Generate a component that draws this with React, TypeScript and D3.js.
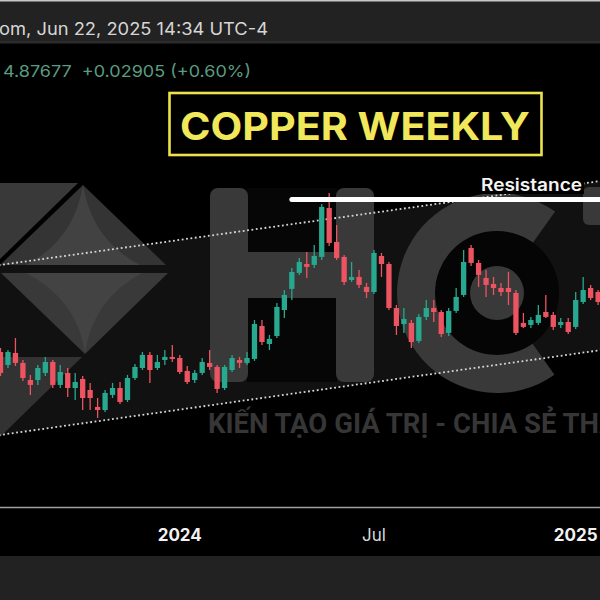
import React from 'react';
import * as d3 from 'd3';

// Weekly COMEX copper candles (USD/lb), first week starting 2023-07-17
const firstWeek = '2023-07-17';
const opens = [4.015, 3.918, 4.008, 3.933, 3.805, 3.805, 3.858, 3.94, 3.768, 3.858, 3.745, 3.813, 3.73, 3.603, 3.58, 3.693, 3.745, 3.655, 3.82, 3.895, 3.993, 3.895, 3.955, 3.978, 3.97, 3.873, 3.805, 3.858, 3.933, 3.903, 3.745, 3.88, 3.955, 3.933, 3.963, 4.21, 4.075, 4.135, 4.33, 4.488, 4.608, 4.675, 4.668, 4.728, 5.095, 4.84, 4.728, 4.555, 4.578, 4.503, 4.465, 4.735, 4.675, 4.345, 4.225, 4.233, 4.098, 4.278, 4.345, 4.315, 4.158, 4.323, 4.443, 4.795, 4.683, 4.57, 4.525, 4.495, 4.495, 4.458, 4.233, 4.218, 4.233, 4.315, 4.293, 4.218, 4.24, 4.203, 4.39, 4.495, 4.465];
const highs = [4.045, 4.03, 4.12, 3.955, 3.843, 3.918, 3.978, 3.955, 3.918, 3.895, 3.858, 3.835, 3.783, 3.67, 3.73, 3.783, 3.79, 3.843, 3.925, 4.015, 4.015, 3.993, 4.03, 4.068, 3.993, 3.91, 3.88, 3.97, 4.03, 3.918, 3.918, 3.993, 3.978, 4.015, 4.255, 4.255, 4.143, 4.383, 4.48, 4.645, 4.72, 4.765, 4.818, 5.125, 5.208, 4.968, 4.743, 4.69, 4.63, 4.533, 4.78, 4.758, 4.69, 4.368, 4.345, 4.255, 4.3, 4.405, 4.405, 4.33, 4.345, 4.495, 4.78, 4.818, 4.705, 4.63, 4.578, 4.533, 4.615, 4.48, 4.308, 4.278, 4.368, 4.443, 4.315, 4.27, 4.27, 4.465, 4.578, 4.518, 4.48];
const lows = [3.835, 3.895, 3.91, 3.798, 3.693, 3.768, 3.835, 3.745, 3.745, 3.678, 3.655, 3.58, 3.58, 3.52, 3.565, 3.67, 3.625, 3.64, 3.805, 3.88, 3.783, 3.88, 3.918, 3.94, 3.85, 3.775, 3.783, 3.843, 3.88, 3.708, 3.73, 3.865, 3.895, 3.918, 3.948, 4.068, 4.03, 4.12, 4.27, 4.405, 4.593, 4.57, 4.645, 4.705, 4.81, 4.705, 4.518, 4.54, 4.495, 4.42, 4.45, 4.578, 4.33, 4.143, 4.158, 4.045, 4.083, 4.255, 4.24, 4.128, 4.135, 4.308, 4.428, 4.66, 4.503, 4.428, 4.443, 4.435, 4.368, 4.143, 4.195, 4.195, 4.218, 4.27, 4.18, 4.195, 4.15, 4.188, 4.375, 4.405, 4.368];
const closes = [3.858, 4.015, 3.933, 3.82, 3.768, 3.895, 3.94, 3.768, 3.865, 3.745, 3.79, 3.67, 3.67, 3.58, 3.708, 3.745, 3.64, 3.82, 3.903, 3.993, 3.88, 3.94, 3.978, 3.963, 3.865, 3.79, 3.858, 3.94, 3.903, 3.738, 3.903, 3.97, 3.933, 3.97, 4.225, 4.09, 4.113, 4.353, 4.443, 4.615, 4.69, 4.653, 4.735, 5.103, 4.833, 4.72, 4.54, 4.578, 4.518, 4.465, 4.758, 4.675, 4.345, 4.21, 4.263, 4.09, 4.278, 4.345, 4.315, 4.15, 4.323, 4.428, 4.69, 4.683, 4.593, 4.518, 4.495, 4.465, 4.465, 4.158, 4.203, 4.255, 4.293, 4.278, 4.203, 4.24, 4.165, 4.405, 4.48, 4.42, 4.39];

const tickDates = ['2024-01-01', '2024-07-01', '2025-01-06'];
const tickLabels = ['2024', 'Jul', '2025'];
const tickBold = [true, false, true];

// Parallel channel anchors: [week start, price]
const channelUpper: [string, number][] = [['2023-07-17', 4.668], ['2025-01-27', 5.295]];
const channelLower: [string, number][] = [['2023-07-17', 3.393], ['2025-01-27', 4.026]];
const resistanceStart = '2024-04-15';
const resistancePrice = 5.159;

const headerText = 'om, Jun 22, 2025 14:34 UTC-4';
const quoteText = '4.87677  +0.02905 (+0.60%)';
const titleText = 'COPPER WEEKLY';
const watermarkText = 'KIẾN TẠO GIÁ TRỊ - CHIA SẺ THÀNH CÔNG';

const UP = '#27a88f';
const DOWN = '#ec5462';
const WM = '#393939';

export default function App() {
  const W = 600, H = 600;
  const parse = d3.utcParse('%Y-%m-%d');
  const t0 = parse(firstWeek)!;
  const dates = opens.map((_, i) => d3.utcDay.offset(t0, i * 7));
  const x = d3.scaleUtc().domain([dates[0], dates[dates.length - 1]]).range([0.5, 598.1]);
  const y = d3.scaleLinear().domain([5.2, 3.52]).range([194, 418]);

  const extend = (pts: [string, number][]) => {
    const xa = x(parse(pts[0][0])!), ya = y(pts[0][1]);
    const xb = x(parse(pts[1][0])!), yb = y(pts[1][1]);
    const k = (yb - ya) / (xb - xa);
    return { x1: -10, y1: ya + k * (-10 - xa), x2: 610, y2: ya + k * (610 - xa) };
  };
  const up = extend(channelUpper);
  const lo = extend(channelLower);

  const bodyW = 5.3;

  const cArc = d3.arc()({ innerRadius: 62, outerRadius: 100, startAngle: 2.53, endAngle: Math.PI * 2 + 0.62 } as any) as string;

  return (
    <svg width={W} height={H} style={{ position: 'fixed', left: 0, top: 0 }} xmlns="http://www.w3.org/2000/svg">
      <rect x={0} y={0} width={W} height={H} fill="#000" />
      <defs>
        <clipPath id="plot"><rect x={0} y={44} width={600} height={462} /></clipPath>
      </defs>
      <g clipPath="url(#plot)">
        {/* channel fill */}
        <polygon points={`${up.x1},${up.y1} ${up.x2},${up.y2} ${lo.x2},${lo.y2} ${lo.x1},${lo.y1}`} fill="#111" />
        {/* watermark: gem */}
        <polygon points="0,183 78,183 0,259" fill={WM} />
        <polygon points="83,185 166,265 0,265" fill="#343434" />
        <path d="M83,185 Q92,240 140,265 L26,265 Q74,240 83,185 Z" fill="#424242" />
        <polygon points="1,273 168,273 85,354" fill="#393939" />
        <path d="M26,273 L142,273 Q92,300 85,354 Q78,300 26,273 Z" fill="#434343" />
        <polygon points="0,357 82,357 0,437" fill="#323232" />
        {/* watermark: H */}
        <rect x={247} y={188} width={90} height={194} fill="#060606" />
        <rect x={210} y={188} width={38} height={194} rx={8} fill={WM} />
        <rect x={336} y={188} width={38} height={194} rx={8} fill={WM} />
        <rect x={246} y={252} width={92} height={46} fill={WM} />
        {/* watermark: C */}
        <circle cx={497} cy={293} r={62} fill="#050505" />
        <path d={cArc} transform="translate(497,293)" fill={WM} />
        <circle cx={497} cy={293} r={27} fill={WM} />
        {/* watermark: T */}
        <rect x={583} y={187} width={60} height={38} rx={6} fill={WM} />
        <text x={208} y={433} fontFamily="Roboto, sans-serif" fontWeight={700} fontSize={27.5} fill="#363636">{watermarkText}</text>

        {/* channel lines */}
        <line {...up} stroke="#d8d8d8" strokeWidth={1.8} strokeDasharray="1.8 2.6" />
        <line {...lo} stroke="#d8d8d8" strokeWidth={1.8} strokeDasharray="1.8 2.6" />

        {/* candles */}
        {dates.map((d, i) => {
          const o = opens[i], c = closes[i];
          const isUp = c >= o;
          const col = isUp ? UP : DOWN;
          const cx = x(d);
          const top = y(Math.max(o, c));
          const bot = y(Math.min(o, c));
          return (
            <g key={i}>
              <line x1={cx} x2={cx} y1={y(highs[i])} y2={y(lows[i])} stroke={col} strokeWidth={1.3} />
              <rect x={cx - bodyW / 2} y={top} width={bodyW} height={Math.max(1.5, bot - top)} fill={col} />
            </g>
          );
        })}

        {/* resistance */}
        <line x1={x(parse(resistanceStart)!)} x2={620} y1={y(resistancePrice)} y2={y(resistancePrice)} stroke="#fff" strokeWidth={5} strokeLinecap="round" />
        <rect x={478} y={175} width={106} height={19} fill="#000" />
        <text x={481} y={191} fontFamily="Inter, sans-serif" fontWeight={600} fontSize={17} fill="#f4f4f4" textLength={101} lengthAdjust="spacingAndGlyphs">Resistance</text>
      </g>

      {/* title box */}
      <rect x={169.5} y={93} width={372} height={62} fill="#000" stroke="#ece34c" strokeWidth={2.6} />
      <text x={180} y={140} fontFamily="Inter, sans-serif" fontWeight={700} fontSize={38} fill="#f1e75a" textLength={350} lengthAdjust="spacingAndGlyphs">{titleText}</text>

      {/* header */}
      <rect x={0} y={0} width={W} height={42} fill="#222" />
      <rect x={0} y={0} width={W} height={1.5} fill="#c8c8c8" />
      <rect x={0} y={41} width={W} height={2.5} fill="#2c2c2c" />
      <text x={-1} y={35} fontFamily="Inter, sans-serif" fontSize={17} fill="#d6d6d6" textLength={269} lengthAdjust="spacingAndGlyphs">{headerText}</text>
      <text x={3} y={77} fontFamily="Inter, sans-serif" fontSize={16.5} fill="#5a9c80" textLength={248} lengthAdjust="spacingAndGlyphs" style={{ whiteSpace: 'pre' }}>{quoteText}</text>

      {/* time axis */}
      <line x1={0} x2={W} y1={507.5} y2={507.5} stroke="#a0a0a0" strokeWidth={1.6} />
      {tickDates.map((td, i) => (
        <text key={td} x={x(parse(td)!)} y={541} textAnchor="middle" fontFamily="Inter, sans-serif" fontSize={17} fontWeight={tickBold[i] ? 700 : 400} fill={tickBold[i] ? '#f2f2f2' : '#d8d8d8'}>{tickLabels[i]}</text>
      ))}
      <rect x={0} y={556} width={W} height={44} fill="#222" />
    </svg>
  );
}
